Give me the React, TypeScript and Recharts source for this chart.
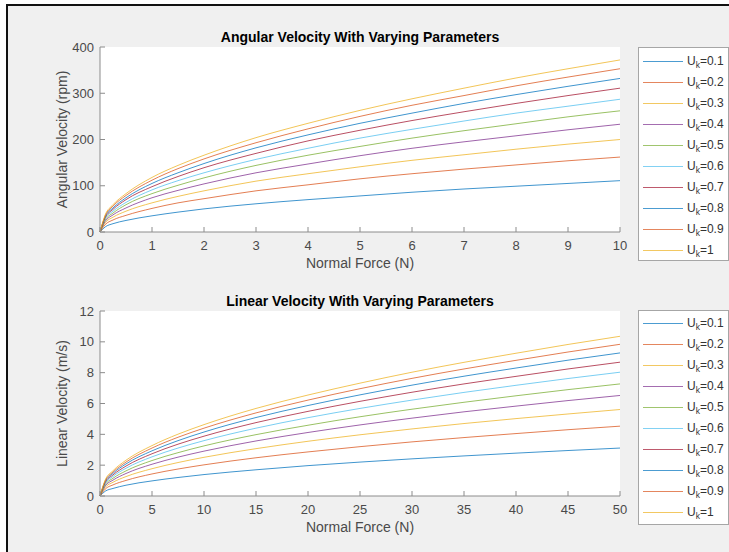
import { LineChart, Line, XAxis, YAxis, CartesianGrid, Legend } from "recharts";

const ukLabels = ["0.1", "0.2", "0.3", "0.4", "0.5", "0.6", "0.7", "0.8", "0.9", "1"];
const lineColors = ["#0072BD", "#D95319", "#EDB120", "#7E2F8E", "#77AC30", "#4DBEEE", "#A2142F", "#0072BD", "#D95319", "#EDB120"];

// normal force samples (N)
const forceTop = [0, 0.1, 0.25, 0.5, 1, 1.5, 2, 3, 4, 5, 6, 7, 8, 9, 10];
const forceBottom = [0, 0.5, 1.25, 2.5, 5, 7.5, 10, 15, 20, 25, 30, 35, 40, 45, 50];

// angular velocity (rpm), one row per U_k
const angularVelocity = [
  [0, 11, 18, 25, 35, 43, 50, 61, 70, 78, 86, 93, 99, 105, 111],
  [0, 16, 26, 36, 51, 63, 72, 89, 102, 115, 126, 136, 145, 154, 162],
  [0, 20, 32, 45, 63, 77, 89, 110, 126, 141, 155, 167, 179, 190, 200],
  [0, 23, 37, 52, 74, 90, 104, 128, 147, 165, 181, 195, 208, 221, 233],
  [0, 26, 41, 59, 83, 101, 117, 144, 166, 185, 203, 219, 234, 249, 262],
  [0, 29, 45, 64, 91, 111, 128, 157, 181, 203, 222, 240, 257, 272, 287],
  [0, 31, 49, 70, 98, 120, 139, 170, 197, 220, 241, 260, 278, 295, 311],
  [0, 33, 52, 74, 105, 128, 148, 182, 210, 235, 257, 278, 297, 315, 332],
  [0, 35, 56, 79, 112, 137, 158, 193, 223, 250, 274, 295, 316, 335, 353],
  [0, 37, 59, 83, 118, 144, 166, 204, 235, 263, 288, 311, 333, 353, 372],
];

// linear velocity (m/s), one row per U_k
const linearVelocity = [
  [0, 0.31, 0.49, 0.7, 0.98, 1.2, 1.39, 1.7, 1.97, 2.2, 2.41, 2.6, 2.78, 2.95, 3.11],
  [0, 0.45, 0.72, 1.01, 1.43, 1.75, 2.02, 2.48, 2.86, 3.2, 3.51, 3.79, 4.05, 4.3, 4.53],
  [0, 0.56, 0.89, 1.26, 1.77, 2.17, 2.51, 3.07, 3.55, 3.97, 4.35, 4.7, 5.02, 5.32, 5.61],
  [0, 0.65, 1.03, 1.46, 2.06, 2.52, 2.91, 3.57, 4.12, 4.61, 5.05, 5.46, 5.83, 6.19, 6.52],
  [0, 0.73, 1.15, 1.63, 2.3, 2.81, 3.25, 3.98, 4.59, 5.14, 5.63, 6.08, 6.5, 6.9, 7.27],
  [0, 0.8, 1.27, 1.8, 2.54, 3.11, 3.59, 4.4, 5.08, 5.68, 6.22, 6.72, 7.18, 7.62, 8.03],
  [0, 0.87, 1.37, 1.94, 2.74, 3.36, 3.88, 4.76, 5.49, 6.14, 6.73, 7.27, 7.76, 8.24, 8.68],
  [0, 0.93, 1.47, 2.08, 2.93, 3.59, 4.15, 5.09, 5.87, 6.56, 7.19, 7.77, 8.3, 8.81, 9.28],
  [0, 0.98, 1.55, 2.2, 3.11, 3.81, 4.4, 5.39, 6.22, 6.96, 7.63, 8.24, 8.8, 9.34, 9.84],
  [0, 1.04, 1.64, 2.32, 3.27, 4.01, 4.63, 5.68, 6.55, 7.32, 8.03, 8.67, 9.26, 9.83, 10.36],
];

const xTicksTop = [0, 1, 2, 3, 4, 5, 6, 7, 8, 9, 10];
const xTicksBottom = [0, 5, 10, 15, 20, 25, 30, 35, 40, 45, 50];
const yTicksTop = [0, 100, 200, 300, 400];
const yTicksBottom = [0, 2, 4, 6, 8, 10, 12];

const AXIS = "#8c8c8c";
const TEXT = "#4a4a4a";

function buildRows(xs: number[], series: number[][]) {
  return xs.map((x, i) => {
    const row: Record<string, number> = { x };
    series.forEach((s, j) => (row["s" + j] = s[i]));
    return row;
  });
}

function UkLegend(props: any) {
  const items = props.payload || [];
  return (
    <div
      style={{
        boxSizing: "border-box",
        width: 91,
        height: props.boxHeight,
        background: "#fff",
        border: "1px solid #a6a6a6",
        paddingTop: props.padTop,
      }}
    >
      {items.map((_: any, i: number) => (
        <div key={i} style={{ display: "flex", alignItems: "center", height: 21, fontSize: 12, color: "#333" }}>
          <div style={{ marginLeft: 4, width: 40, height: 1, background: lineColors[i], opacity: 0.7 }} />
          <span style={{ marginLeft: 4, whiteSpace: "nowrap" }}>
            U<sub style={{ fontSize: 8.5, verticalAlign: "-3px" }}>k</sub>={ukLabels[i]}
          </span>
        </div>
      ))}
    </div>
  );
}

function Panel({
  title,
  yLabel,
  xs,
  series,
  xTicks,
  yTicks,
  legendTop,
  legendHeight,
  padTop,
}: {
  title: string;
  yLabel: string;
  xs: number[];
  series: number[][];
  xTicks: number[];
  yTicks: number[];
  legendTop: number;
  legendHeight: number;
  padTop: number;
}) {
  const rows = buildRows(xs, series);
  const xDomain = [xTicks[0], xTicks[xTicks.length - 1]];
  const yDomain = [yTicks[0], yTicks[yTicks.length - 1]];
  return (
    <div style={{ position: "relative", width: 729, height: 280 }}>
      <div
        style={{
          position: "absolute",
          left: 100,
          top: 29,
          width: 520,
          lineHeight: "16px",
          textAlign: "center",
          fontSize: 14,
          fontWeight: "bold",
          color: "#000",
          zIndex: 2,
        }}
      >
        {title}
      </div>
      <LineChart width={729} height={280} data={rows} margin={{ top: 47, right: 109, bottom: 12, left: 24 }}>
        <CartesianGrid fill="#ffffff" horizontal={false} vertical={false} />
        <XAxis
          dataKey="x"
          type="number"
          domain={xDomain}
          ticks={xTicks}
          height={36}
          stroke={AXIS}
          tickSize={-5}
          tickMargin={14}
          tick={{ fontSize: 13, fill: TEXT }}
          label={{ value: "Normal Force (N)", position: "insideBottom", offset: 0, fontSize: 14, fill: TEXT }}
        />
        <XAxis
          xAxisId="top"
          orientation="top"
          type="number"
          domain={xDomain}
          ticks={xTicks}
          height={0}
          stroke={AXIS}
          tickSize={-5}
          tick={() => <g />}
        />
        <YAxis
          type="number"
          domain={yDomain}
          ticks={yTicks}
          width={76}
          stroke={AXIS}
          tickSize={-5}
          tickMargin={11}
          tick={{ fontSize: 13, fill: TEXT }}
          label={{ value: yLabel, angle: -90, position: "center", fontSize: 14, fill: TEXT }}
        />
        <YAxis
          yAxisId="right"
          orientation="right"
          type="number"
          domain={yDomain}
          ticks={yTicks}
          width={0}
          stroke={AXIS}
          tickSize={-5}
          tick={() => <g />}
        />
        <Legend
          layout="vertical"
          align="center"
          verticalAlign="middle"
          wrapperStyle={{ left: 638, top: legendTop, width: 91, height: legendHeight }}
          content={(p: any) => <UkLegend {...p} boxHeight={legendHeight} padTop={padTop} />}
        />
        {series.map((_, j) => (
          <Line
            key={j}
            dataKey={"s" + j}
            name={"U_k=" + ukLabels[j]}
            type="monotone"
            stroke={lineColors[j]}
            strokeWidth={1}
            strokeOpacity={0.75}
            dot={false}
            activeDot={false}
            isAnimationActive={false}
          />
        ))}
      </LineChart>
    </div>
  );
}

export default function App() {
  return (
    <div
      style={{
        position: "absolute",
        left: 0,
        top: 0,
        width: 729,
        height: 552,
        overflow: "hidden",
        background: "#fff",
        fontFamily: "'Liberation Sans', Arial, Helvetica, sans-serif",
      }}
    >
      <div
        style={{
          position: "absolute",
          left: 6,
          top: 4,
          width: 740,
          height: 560,
          background: "#f0f0f0",
          borderLeft: "2px solid #111",
          borderTop: "2px solid #111",
        }}
      />
      <div style={{ position: "absolute", left: 0, top: 0 }}>
        <Panel
          title="Angular Velocity With Varying Parameters"
          yLabel="Angular Velocity (rpm)"
          xs={forceTop}
          series={angularVelocity}
          xTicks={xTicksTop}
          yTicks={yTicksTop}
          legendTop={47}
          legendHeight={214}
          padTop={3}
        />
      </div>
      <div style={{ position: "absolute", left: 0, top: 264 }}>
        <Panel
          title="Linear Velocity With Varying Parameters"
          yLabel="Linear Velocity (m/s)"
          xs={forceBottom}
          series={linearVelocity}
          xTicks={xTicksBottom}
          yTicks={yTicksBottom}
          legendTop={46}
          legendHeight={215}
          padTop={2}
        />
      </div>
    </div>
  );
}
